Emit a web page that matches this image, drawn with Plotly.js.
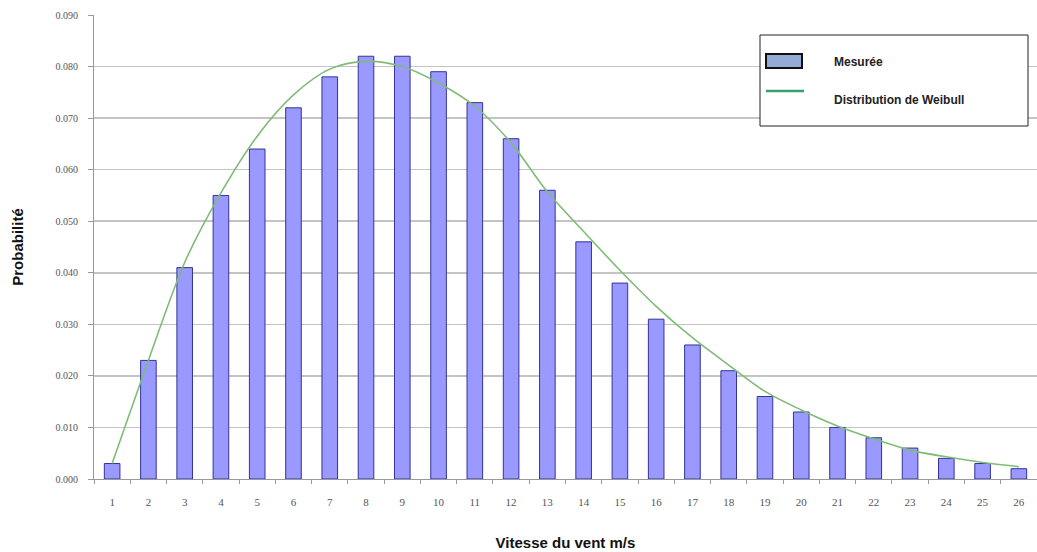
<!DOCTYPE html>
<html>
<head>
<meta charset="utf-8">
<script src="https://cdn.plot.ly/plotly-3.0.1.min.js"></script>
<style>html,body{margin:0;padding:0;background:#fff;}#chart{width:1037px;height:552px;}</style>
</head>
<body>
<div id="chart"></div>
<script>
const categories = ['1','2','3','4','5','6','7','8','9','10','11','12','13','14','15','16','17','18','19','20','21','22','23','24','25','26'];
const measured = [0.003,0.023,0.041,0.055,0.064,0.072,0.078,0.082,0.082,0.079,0.073,0.066,0.056,0.046,0.038,0.031,0.026,0.021,0.016,0.013,0.010,0.008,0.006,0.004,0.003,0.002];
const weibull = [0.003,0.023,0.042,0.0555,0.0665,0.0745,0.0795,0.081,0.080,0.0768,0.0723,0.0652,0.0557,0.048,0.0405,0.0335,0.0274,0.0221,0.017,0.0134,0.0103,0.0078,0.0056,0.0043,0.0032,0.0024];
const yTicks = [0,0.01,0.02,0.03,0.04,0.05,0.06,0.07,0.08,0.09];
const seriesNames = ['Mesurée','Distribution de Weibull'];
const xTitle = 'Vitesse du vent m/s';
const yTitle = 'Probabilité';

const W = 1037, H = 552;
const mL = 94, mR = 0, mT = 15, mB = 73;
const pw = W - mL - mR, ph = H - mT - mB;
function px(x){ return (x - mL) / pw; }
function py(y){ return 1 - (y - mT) / ph; }

const traces = [
  {type:'bar', x:categories, y:measured, name:seriesNames[0], showlegend:false,
   marker:{color:'#9999ff', line:{color:'#333399', width:1}}, hoverinfo:'x+y'},
  {type:'scatter', mode:'lines', x:categories, y:weibull, name:seriesNames[1], showlegend:false,
   line:{color:'#80bb78', width:1.6, shape:'spline', smoothing:0.9}, hoverinfo:'x+y'}
];

const boxL = 760, boxR = 1028, boxT = 35, boxB = 126;
const shapes = [
  {type:'rect', xref:'paper', yref:'paper', x0:px(boxL), x1:px(boxR), y0:py(boxB), y1:py(boxT),
   line:{color:'#222', width:1}, fillcolor:'#ffffff', layer:'above'},
  {type:'rect', xref:'paper', yref:'paper', x0:px(766), x1:px(802), y0:py(68), y1:py(54),
   line:{color:'#111', width:2}, fillcolor:'#94a9d6', layer:'above'},
  {type:'line', xref:'paper', yref:'paper', x0:px(766), x1:px(804), y0:py(91), y1:py(91),
   line:{color:'#3a9e72', width:2.5}, layer:'above'}
];
const annotations = [
  {xref:'paper', yref:'paper', x:px(832), y:py(62), xanchor:'left', yanchor:'middle', showarrow:false,
   text:'<b>'+seriesNames[0]+'</b>', font:{family:'Liberation Sans, Arial, sans-serif', size:12, color:'#222'}},
  {xref:'paper', yref:'paper', x:px(832), y:py(100), xanchor:'left', yanchor:'middle', showarrow:false,
   text:'<b>'+seriesNames[1]+'</b>', font:{family:'Liberation Sans, Arial, sans-serif', size:12, color:'#222'}}
];

const layout = {
  width:W, height:H,
  margin:{l:mL, r:mR, t:mT, b:mB},
  paper_bgcolor:'#ffffff', plot_bgcolor:'#ffffff',
  showlegend:false,
  bargap:0.57,
  xaxis:{type:'category', range:[-0.5, 25.5], tickson:'boundaries', ticks:'outside', ticklen:4, tickcolor:'#999',
    showgrid:false, showline:true, linecolor:'#999', linewidth:1, zeroline:false,
    tickfont:{family:'Liberation Serif, Times New Roman, serif', size:11, color:'#555'},
    ticklabelstandoff:13,
    title:{text:'<b>'+xTitle+'</b>', font:{family:'Liberation Sans, Arial, sans-serif', size:15, color:'#111'}, standoff:30}},
  yaxis:{range:[0,0.09], tickvals:yTicks, tickformat:'.3f', ticks:'outside', ticklen:5, tickcolor:'#999',
    showgrid:true, gridcolor:'#c4c4c4', gridwidth:1.6, showline:true, linecolor:'#999', linewidth:1, zeroline:false,
    tickfont:{family:'Liberation Serif, Times New Roman, serif', size:10, color:'#555'},
    ticklabelstandoff:8,
    title:{text:'<b>'+yTitle+'</b>', font:{family:'Liberation Sans, Arial, sans-serif', size:15, color:'#111'}, standoff:28}},
  shapes:shapes,
  annotations:annotations
};

Plotly.newPlot('chart', traces, layout, {displayModeBar:false, staticPlot:true});
</script>
</body>
</html>
